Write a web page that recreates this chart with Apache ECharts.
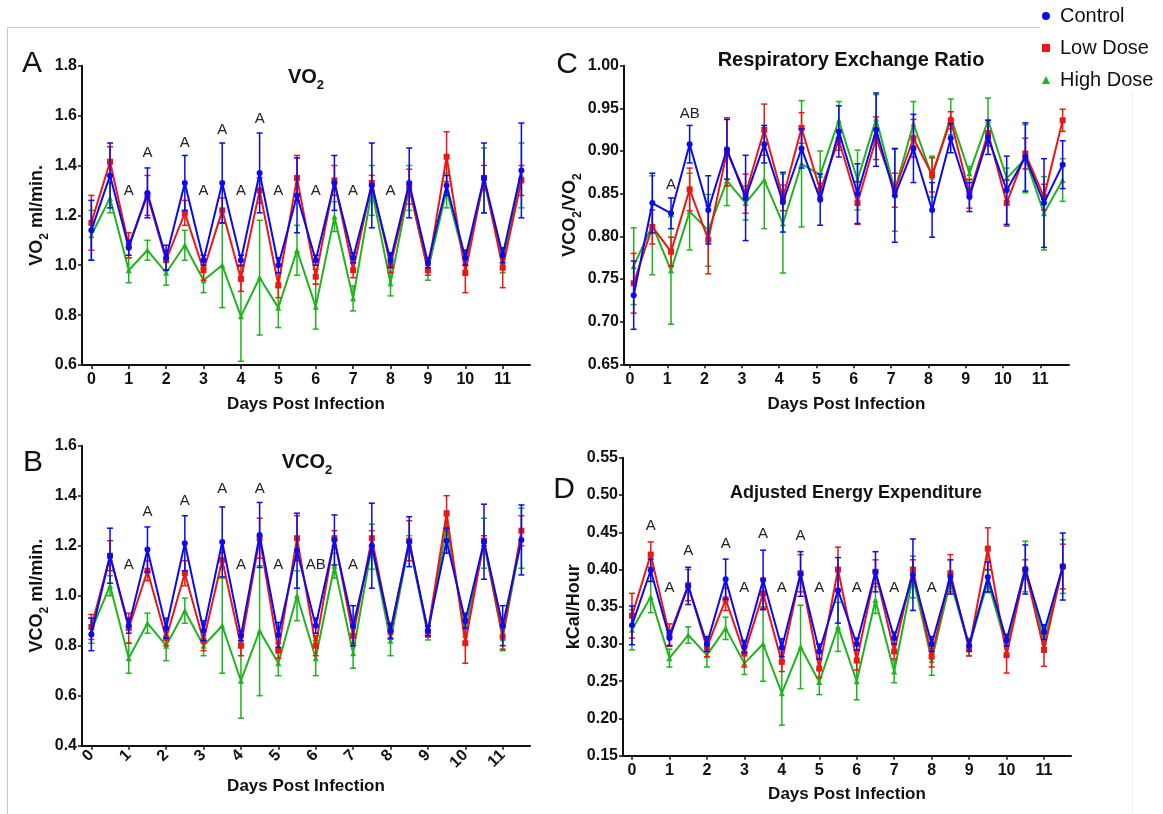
<!DOCTYPE html>
<html>
<head>
<meta charset="utf-8">
<script src="https://cdn.jsdelivr.net/npm/echarts@6/dist/echarts.min.js"></script>
<style>
html,body{margin:0;padding:0;background:#fff;}
#chart{width:1163px;height:814px;}
</style>
</head>
<body>
<div id="chart"></div>
<script>
// ---------------- DATA ----------------
const groups = ['Control', 'Low Dose', 'High Dose'];
const xTickLabels = [0, 1, 2, 3, 4, 5, 6, 7, 8, 9, 10, 11];
const days = [0, 0.5, 1, 1.5, 2, 2.5, 3, 3.5, 4, 4.5, 5, 5.5, 6, 6.5, 7, 7.5, 8, 8.5, 9, 9.5, 10, 10.5, 11, 11.5];
const daysRER = [0.1, 0.6, 1.1, 1.6, 2.1, 2.6, 3.1, 3.6, 4.1, 4.6, 5.1, 5.6, 6.1, 6.6, 7.1, 7.6, 8.1, 8.6, 9.1, 9.6, 10.1, 10.6, 11.1, 11.6];

// Panel A: VO2 (ml/min.)
const vo2Control = [1.14, 1.36, 1.07, 1.29, 1.03, 1.33, 1.02, 1.33, 1.02, 1.37, 1.00, 1.28, 1.02, 1.33, 1.03, 1.32, 1.02, 1.33, 1.01, 1.32, 1.03, 1.35, 1.04, 1.38];
const vo2ControlErr = [0.12, 0.13, 0.03, 0.10, 0.05, 0.11, 0.02, 0.16, 0.02, 0.16, 0.03, 0.15, 0.02, 0.11, 0.02, 0.17, 0.03, 0.14, 0.02, 0.04, 0.03, 0.14, 0.03, 0.19];
const vo2Low = [1.17, 1.415, 1.08, 1.28, 1.02, 1.21, 0.98, 1.22, 0.945, 1.30, 0.92, 1.35, 0.954, 1.34, 0.98, 1.33, 1.00, 1.315, 0.98, 1.435, 0.97, 1.35, 0.99, 1.34];
const vo2LowErr = [0.11, 0.06, 0.05, 0.08, 0.04, 0.05, 0.04, 0.05, 0.05, 0.05, 0.05, 0.09, 0.03, 0.06, 0.03, 0.03, 0.03, 0.07, 0.02, 0.10, 0.08, 0.05, 0.08, 0.06];
const vo2High = [1.12, 1.27, 0.98, 1.06, 0.97, 1.08, 0.94, 1.00, 0.795, 0.95, 0.83, 1.06, 0.834, 1.195, 0.867, 1.30, 0.927, 1.31, 0.98, 1.30, 1.01, 1.34, 1.01, 1.36];
const vo2HighErr = [0.10, 0.06, 0.05, 0.04, 0.05, 0.06, 0.05, 0.17, 0.18, 0.23, 0.08, 0.10, 0.09, 0.06, 0.05, 0.10, 0.05, 0.09, 0.04, 0.07, 0.05, 0.13, 0.04, 0.13];
const vo2Letters = [[1, 1.30, 'A'], [1.5, 1.45, 'A'], [2.5, 1.49, 'A'], [3, 1.30, 'A'], [3.5, 1.543, 'A'], [4, 1.30, 'A'], [4.5, 1.585, 'A'], [5, 1.30, 'A'], [6, 1.30, 'A'], [7, 1.30, 'A'], [8, 1.30, 'A']];

// Panel B: VCO2 (ml/min.)
const vco2Control = [0.845, 1.16, 0.88, 1.185, 0.87, 1.21, 0.86, 1.215, 0.84, 1.243, 0.843, 1.18, 0.88, 1.223, 0.88, 1.20, 0.86, 1.216, 0.86, 1.22, 0.90, 1.216, 0.88, 1.223];
const vco2ControlErr = [0.065, 0.11, 0.03, 0.09, 0.04, 0.11, 0.04, 0.14, 0.02, 0.13, 0.05, 0.15, 0.03, 0.10, 0.08, 0.17, 0.03, 0.10, 0.02, 0.05, 0.03, 0.15, 0.08, 0.14];
const vco2Low = [0.875, 1.16, 0.87, 1.10, 0.83, 1.09, 0.82, 1.143, 0.80, 1.23, 0.78, 1.23, 0.80, 1.23, 0.84, 1.23, 0.856, 1.22, 0.856, 1.33, 0.81, 1.22, 0.836, 1.26];
const vco2LowErr = [0.05, 0.06, 0.06, 0.04, 0.03, 0.05, 0.04, 0.03, 0.04, 0.08, 0.03, 0.09, 0.04, 0.03, 0.03, 0.03, 0.03, 0.08, 0.02, 0.07, 0.08, 0.02, 0.05, 0.06];
const vco2High = [0.86, 1.04, 0.75, 0.89, 0.80, 0.94, 0.80, 0.88, 0.66, 0.86, 0.73, 1.00, 0.75, 1.12, 0.77, 1.196, 0.82, 1.21, 0.843, 1.28, 0.856, 1.21, 0.83, 1.23];
const vco2HighErr = [0.05, 0.04, 0.06, 0.04, 0.06, 0.05, 0.04, 0.19, 0.15, 0.26, 0.05, 0.10, 0.07, 0.05, 0.06, 0.09, 0.06, 0.03, 0.02, 0.04, 0.02, 0.10, 0.05, 0.12];
const vco2Letters = [[1, 1.123, 'A'], [1.5, 1.336, 'A'], [2.5, 1.379, 'A'], [3.5, 1.426, 'A'], [4, 1.123, 'A'], [4.5, 1.426, 'A'], [5, 1.123, 'A'], [6, 1.123, 'AB'], [7, 1.123, 'A']];

// Panel C: Respiratory Exchange Ratio
const rerControl = [0.731, 0.839, 0.827, 0.908, 0.831, 0.902, 0.845, 0.908, 0.84, 0.903, 0.843, 0.923, 0.85, 0.925, 0.848, 0.903, 0.831, 0.915, 0.846, 0.916, 0.854, 0.893, 0.839, 0.884];
const rerControlErr = [0.04, 0.035, 0.018, 0.022, 0.04, 0.035, 0.05, 0.022, 0.035, 0.023, 0.03, 0.03, 0.035, 0.043, 0.055, 0.04, 0.032, 0.017, 0.017, 0.02, 0.04, 0.04, 0.052, 0.028];
const rerLow = [0.745, 0.811, 0.782, 0.855, 0.796, 0.899, 0.85, 0.925, 0.845, 0.927, 0.854, 0.913, 0.839, 0.915, 0.854, 0.915, 0.872, 0.936, 0.85, 0.921, 0.839, 0.897, 0.846, 0.936];
const rerLowErr = [0.035, 0.02, 0.017, 0.025, 0.04, 0.04, 0.023, 0.03, 0.015, 0.018, 0.008, 0.012, 0.025, 0.025, 0.02, 0.022, 0.02, 0.01, 0.017, 0.015, 0.027, 0.018, 0.015, 0.013];
const rerHigh = [0.765, 0.813, 0.76, 0.829, 0.807, 0.865, 0.839, 0.866, 0.815, 0.885, 0.872, 0.936, 0.866, 0.938, 0.854, 0.932, 0.87, 0.94, 0.874, 0.936, 0.868, 0.891, 0.827, 0.866];
const rerHighErr = [0.045, 0.058, 0.063, 0.045, 0.042, 0.029, 0.02, 0.057, 0.058, 0.074, 0.028, 0.022, 0.035, 0.028, 0.048, 0.026, 0.024, 0.021, 0.008, 0.026, 0.012, 0.04, 0.043, 0.025];
const rerLetters = [[1.1, 0.860, 'A'], [1.6, 0.944, 'AB']];

// Panel D: Adjusted Energy Expenditure (kCal/Hour)
const aeeControl = [0.325, 0.399, 0.308, 0.378, 0.30, 0.387, 0.296, 0.386, 0.295, 0.394, 0.29, 0.372, 0.30, 0.397, 0.308, 0.393, 0.30, 0.39, 0.298, 0.39, 0.305, 0.40, 0.316, 0.404];
const aeeControlErr = [0.026, 0.015, 0.01, 0.025, 0.01, 0.027, 0.008, 0.04, 0.012, 0.03, 0.01, 0.044, 0.008, 0.027, 0.008, 0.048, 0.01, 0.023, 0.008, 0.02, 0.008, 0.033, 0.01, 0.045];
const aeeLow = [0.338, 0.42, 0.312, 0.379, 0.295, 0.36, 0.287, 0.368, 0.276, 0.395, 0.267, 0.40, 0.278, 0.397, 0.29, 0.40, 0.283, 0.395, 0.294, 0.428, 0.285, 0.40, 0.292, 0.404];
const aeeLowErr = [0.03, 0.017, 0.015, 0.021, 0.012, 0.015, 0.018, 0.02, 0.013, 0.025, 0.012, 0.03, 0.013, 0.016, 0.01, 0.013, 0.014, 0.025, 0.01, 0.028, 0.024, 0.013, 0.022, 0.03];
const aeeHigh = [0.319, 0.363, 0.281, 0.312, 0.285, 0.321, 0.274, 0.30, 0.234, 0.296, 0.249, 0.323, 0.25, 0.359, 0.263, 0.39, 0.278, 0.384, 0.296, 0.384, 0.296, 0.404, 0.303, 0.404];
const aeeHighErr = [0.027, 0.021, 0.012, 0.011, 0.016, 0.015, 0.015, 0.05, 0.043, 0.056, 0.017, 0.033, 0.025, 0.018, 0.015, 0.028, 0.02, 0.01, 0.012, 0.015, 0.012, 0.034, 0.01, 0.036];
const aeeLetters = [[0.5, 0.458, 'A'], [1, 0.376, 'A'], [1.5, 0.425, 'A'], [2.5, 0.434, 'A'], [3, 0.376, 'A'], [3.5, 0.448, 'A'], [4, 0.376, 'A'], [4.5, 0.445, 'A'], [5, 0.376, 'A'], [6, 0.376, 'A'], [7, 0.376, 'A'], [8, 0.376, 'A']];

// ---------------- STYLE / LAYOUT ----------------
const FONT = '"Liberation Sans", Arial, Helvetica, sans-serif';
const COLORS = { 'Control': '#0a0af0', 'Low Dose': '#ee1515', 'High Dose': '#1db41d' };
const SYMBOLS = { 'Control': 'circle', 'Low Dose': 'rect', 'High Dose': 'triangle' };

const subRich = {
  m: { fontFamily: FONT, fontSize: 18, fontWeight: 'bold', color: '#111', lineHeight: 28 },
  s: { fontFamily: FONT, fontSize: 12, fontWeight: 'bold', color: '#111', verticalAlign: 'bottom', lineHeight: 13 }
};
const titleRich = {
  m: { fontFamily: FONT, fontSize: 20, fontWeight: 'bold', fill: '#111', lineHeight: 30 },
  s: { fontFamily: FONT, fontSize: 13, fontWeight: 'bold', fill: '#111', verticalAlign: 'bottom', lineHeight: 14 }
};

const panels = [
  { grid: { left: 82, top: 65.7, width: 448, height: 299.3 }, xMin: -0.25, xMax: 11.73, yMin: 0.6, yMax: 1.8, yInt: 0.2, dec: 1,
    x: days, ctrl: [vo2Control, vo2ControlErr], low: [vo2Low, vo2LowErr], high: [vo2High, vo2HighErr], letters: vo2Letters,
    yName: '{m|VO}{s|2}{m| ml/min.}', yGap: 25, xGap: 31, rotate: 0 },
  { grid: { left: 82, top: 445.7, width: 448, height: 300 }, xMin: -0.25, xMax: 11.73, yMin: 0.4, yMax: 1.6, yInt: 0.2, dec: 1,
    x: days, ctrl: [vco2Control, vco2ControlErr], low: [vco2Low, vco2LowErr], high: [vco2High, vco2HighErr], letters: vco2Letters,
    yName: '{m|VCO}{s|2}{m| ml/min.}', yGap: 25, xGap: 32, rotate: 45 },
  { grid: { left: 624, top: 65.7, width: 445, height: 298.6 }, xMin: -0.16, xMax: 11.77, yMin: 0.65, yMax: 1.0, yInt: 0.05, dec: 2,
    x: daysRER, ctrl: [rerControl, rerControlErr], low: [rerLow, rerLowErr], high: [rerHigh, rerHighErr], letters: rerLetters,
    yName: '{m|VCO}{s|2}{m|/VO}{s|2}', yGap: 30, xGap: 32, rotate: 0 },
  { grid: { left: 623, top: 457.8, width: 448, height: 297.9 }, xMin: -0.24, xMax: 11.72, yMin: 0.15, yMax: 0.55, yInt: 0.05, dec: 2,
    x: days, ctrl: [aeeControl, aeeControlErr], low: [aeeLow, aeeLowErr], high: [aeeHigh, aeeHighErr], letters: aeeLetters,
    yName: '{m|kCal/Hour}', yGap: 30, xGap: 30, rotate: 0 }
];

const grids = [], xAxes = [], yAxes = [], series = [];

function errRender(color) {
  return function (params, api) {
    const x = api.value(0), y = api.value(1), e = api.value(2);
    const t = api.coord([x, y + e]), b = api.coord([x, y - e]);
    const st = { stroke: color, lineWidth: 1.5 };
    return { type: 'group', children: [
      { type: 'line', shape: { x1: t[0], y1: t[1], x2: b[0], y2: b[1] }, style: st },
      { type: 'line', shape: { x1: t[0] - 3, y1: t[1], x2: t[0] + 3, y2: t[1] }, style: st },
      { type: 'line', shape: { x1: b[0] - 3, y1: b[1], x2: b[0] + 3, y2: b[1] }, style: st }
    ] };
  };
}

panels.forEach((p, i) => {
  grids.push(Object.assign({ containLabel: false }, p.grid));
  xAxes.push({
    type: 'value', gridIndex: i, min: p.xMin, max: p.xMax,
    name: 'Days Post Infection', nameLocation: 'middle', nameGap: p.xGap,
    nameTextStyle: { fontFamily: FONT, fontSize: 17, fontWeight: 'bold', color: '#111' },
    axisLine: { show: true, onZero: false, lineStyle: { color: '#111', width: 2 } },
    axisTick: { show: true, customValues: xTickLabels, length: 4, lineStyle: { color: '#111', width: 1.5 } },
    axisLabel: { customValues: xTickLabels, fontFamily: FONT, fontSize: 16, fontWeight: 'bold', color: '#111', margin: 7, rotate: p.rotate },
    splitLine: { show: false }
  });
  yAxes.push({
    type: 'value', gridIndex: i, min: p.yMin, max: p.yMax, interval: p.yInt,
    name: p.yName, nameLocation: 'middle', nameGap: p.yGap, nameRotate: 90,
    nameTextStyle: { rich: subRich },
    axisLine: { show: true, onZero: false, lineStyle: { color: '#111', width: 2 } },
    axisTick: { show: true, length: 4, lineStyle: { color: '#111', width: 1.5 } },
    axisLabel: { fontFamily: FONT, fontSize: 16, fontWeight: 'bold', color: '#111', margin: 5,
      formatter: v => v.toFixed(p.dec) },
    splitLine: { show: false }
  });
  const order = [['High Dose', p.high], ['Low Dose', p.low], ['Control', p.ctrl]];
  order.forEach(([name, arr], k) => {
    const col = COLORS[name];
    series.push({
      type: 'custom', name: name + ' SEM', xAxisIndex: i, yAxisIndex: i, z: 2 + k * 2,
      renderItem: errRender(col), silent: true,
      encode: { x: 0, y: 1 },
      data: p.x.map((d, j) => [d, arr[0][j], arr[1][j]])
    });
    series.push({
      type: 'line', name: name, xAxisIndex: i, yAxisIndex: i, z: 3 + k * 2,
      data: p.x.map((d, j) => [d, arr[0][j]]),
      symbol: SYMBOLS[name], symbolSize: 6, showSymbol: true,
      itemStyle: { color: col }, lineStyle: { color: col, width: 2 },
      animation: false
    });
  });
  const letters = p.letters;
  series.push({
    type: 'custom', name: 'letters' + i, xAxisIndex: i, yAxisIndex: i, z: 20, silent: true,
    encode: { x: 0, y: 1 },
    data: letters.map(l => [l[0], l[1]]),
    renderItem: function (params, api) {
      const c = api.coord([api.value(0), api.value(1)]);
      return { type: 'text', x: c[0], y: c[1], style: {
        text: letters[params.dataIndex][2], textAlign: 'center', textVerticalAlign: 'middle',
        fill: '#222', font: '15px ' + FONT } };
    }
  });
});

function gText(x, y, text, font, rich) {
  return { type: 'text', x: x, y: y, silent: true, style: {
    text: text, textAlign: 'center', textVerticalAlign: 'middle', fill: '#111', font: font, rich: rich } };
}

const graphics = [
  { type: 'line', silent: true, shape: { x1: 7.5, y1: 27.5, x2: 1040, y2: 27.5 }, style: { stroke: '#c8c8c8', lineWidth: 1 } },
  { type: 'line', silent: true, shape: { x1: 7.5, y1: 27.5, x2: 7.5, y2: 814 }, style: { stroke: '#c8c8c8', lineWidth: 1 } },
  { type: 'line', silent: true, shape: { x1: 1132.5, y1: 92, x2: 1132.5, y2: 814 }, style: { stroke: '#eeeeee', lineWidth: 1 } },
  gText(32, 64, 'A', '30px ' + FONT),
  gText(33, 463, 'B', '30px ' + FONT),
  gText(567, 65, 'C', '30px ' + FONT),
  gText(564, 490, 'D', '30px ' + FONT),
  gText(306, 77, '{m|VO}{s|2}', 'bold 20px ' + FONT, titleRich),
  gText(307, 462, '{m|VCO}{s|2}', 'bold 20px ' + FONT, titleRich),
  gText(851, 60, 'Respiratory Exchange Ratio', 'bold 20px ' + FONT),
  gText(856, 493, 'Adjusted Energy Expenditure', 'bold 18px ' + FONT)
];

const chart = echarts.init(document.getElementById('chart'), null, { renderer: 'canvas' });
chart.setOption({
  backgroundColor: '#ffffff',
  animation: false,
  grid: grids,
  xAxis: xAxes,
  yAxis: yAxes,
  legend: {
    orient: 'vertical', left: 1037, top: 1, itemWidth: 8, itemHeight: 8, itemGap: 12,
    textStyle: { fontFamily: FONT, fontSize: 20, color: '#111', lineHeight: 20, padding: [0, 0, 0, 5] },
    data: groups.map(g => ({ name: g, icon: SYMBOLS[g] })),
    selectedMode: false
  },
  graphic: graphics,
  series: series
});
</script>
</body>
</html>
